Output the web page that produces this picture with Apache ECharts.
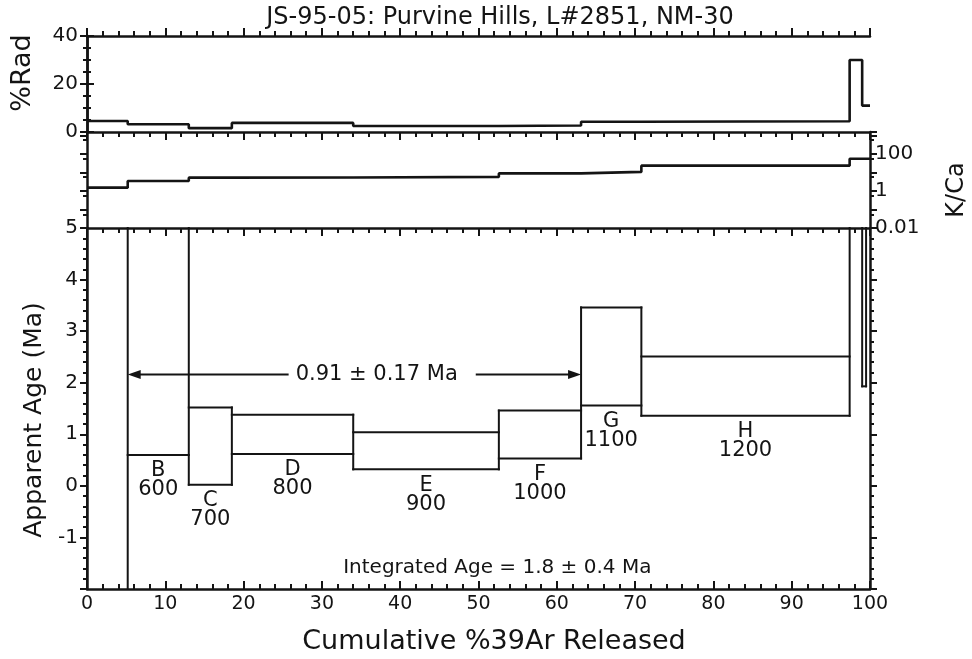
<!DOCTYPE html>
<html>
<head>
<meta charset="utf-8">
<script src="https://cdn.jsdelivr.net/npm/echarts@6/dist/echarts.min.js"></script>
<style>
  html, body { margin: 0; padding: 0; background: #fff; }
  #chart { width: 972px; height: 659px; }
</style>
</head>
<body>
<div id="chart"></div>
<script>
// ---- Step-heating data (cumulative %39Ar released) ----
const stepEdges   = [0, 5.2, 13.0, 18.5, 34.0, 52.6, 63.1, 70.8, 97.4, 99.0, 99.5, 100];
const stepLetters = ['', 'B', 'C', 'D', 'E', 'F', 'G', 'H', '', '', ''];
const stepTemps   = ['', '600', '700', '800', '900', '1000', '1100', '1200', '', '', ''];
const radPercent  = [4.6, 3.2, 1.6, 3.8, 2.5, 2.7, 4.3, 4.5, 30, 11, 11];
const kcaRatio    = [1.5, 3.4, 5.2, 5.3, 5.7, 8.8, 10.6, 23, 54, 54, 54];
const ageLow      = [-12, 0.60, 0.02, 0.62, 0.32, 0.53, 1.56, 1.36, 5.6, 1.93, 6.0];
const ageHigh     = [14, 8.0, 1.52, 1.38, 1.04, 1.46, 3.46, 2.51, 9.0, 8.5, 9.5];

// ---- Tick labels ----
const xTickLabels   = ['0', '10', '20', '30', '40', '50', '60', '70', '80', '90', '100'];
const radTickLabels = ['0', '20', '40'];
const kcaTickLabels = ['0.01', '1', '100'];
const ageTickLabels = ['-1', '0', '1', '2', '3', '4', '5'];

// ---- Plateau and integrated age ----
const plateauSpan  = [5.2, 63.1];
const plateauLevel = 2.16;
const plateauText  = '0.91 ± 0.17 Ma';
const integratedText = 'Integrated Age = 1.8 ± 0.4 Ma';

// ---- Layout / style ----
const INK = '#141414';
const FONT = '"DejaVu Sans", sans-serif';
const AGE_MIN = -2, AGE_MAX = 5;
const PLATEAU_LABEL_X = 37.7;
const INTEGRATED_POS = [52.4, -1.58];

const n = radPercent.length;

// staircase outline: horizontal run for each step, vertical riser at each boundary
function stairs(values) {
  const pts = [];
  for (let i = 0; i < n; i++) {
    pts.push([stepEdges[i], values[i]]);
    pts.push([stepEdges[i + 1], values[i]]);
  }
  return pts;
}

const chart = echarts.init(document.getElementById('chart'), null, { renderer: 'canvas' });

const frameLine = { show: true, lineStyle: { color: INK, width: 2.5 } };
const labelStyle = { color: INK, fontFamily: FONT, fontSize: 20 };

function xAxisDef(grid, position, inside, showLabels) {
  return {
    type: 'value', gridIndex: grid, position: position, min: 0, max: 100, interval: 10,
    axisLine: { show: true, onZero: false, lineStyle: { color: INK, width: 2.5 } },
    axisTick: { show: true, inside: inside, length: 8, lineStyle: { color: INK, width: 2 } },
    minorTick: { show: true, splitNumber: 5, length: 5, lineStyle: { color: INK, width: 2 } },
    splitLine: { show: false },
    axisLabel: showLabels ? {
      show: true, margin: 6, color: INK, fontFamily: FONT, fontSize: 19,
      formatter: v => xTickLabels[Math.round(v / 10)] || ''
    } : { show: false }
  };
}

function yTicks(minorSplit) {
  return {
    axisTick: { show: true, inside: false, length: 7, lineStyle: { color: INK, width: 2 } },
    minorTick: { show: true, splitNumber: minorSplit, length: 4, lineStyle: { color: INK, width: 2 } }
  };
}

const option = {
  backgroundColor: '#fff',
  animation: false,
  grid: [
    { left: 87, right: 102, top: 36, height: 96 },
    { left: 87, right: 102, top: 132, height: 96 },
    { left: 87, right: 102, top: 228, height: 361 }
  ],
  xAxis: [
    xAxisDef(0, 'top', false, false),
    xAxisDef(0, 'bottom', false, false),
    xAxisDef(1, 'bottom', false, false),
    xAxisDef(2, 'bottom', true, true)
  ],
  yAxis: [
    Object.assign({
      type: 'value', gridIndex: 0, position: 'left', min: 0, max: 40, interval: 20,
      axisLine: frameLine, splitLine: { show: false },
      axisLabel: Object.assign({ margin: 9, formatter: v => radTickLabels[Math.round(v / 20)] || '' }, labelStyle)
    }, yTicks(4)),
    Object.assign({
      type: 'value', gridIndex: 0, position: 'right', min: 0, max: 40, interval: 20,
      axisLine: frameLine, splitLine: { show: false }, axisLabel: { show: false }
    }, yTicks(4)),
    Object.assign({
      type: 'log', logBase: 10, gridIndex: 1, position: 'left', min: 0.01, max: 1500,
      axisLine: frameLine, splitLine: { show: false }, axisLabel: { show: false }
    }, yTicks(2)),
    Object.assign({
      type: 'log', logBase: 10, gridIndex: 1, position: 'right', min: 0.01, max: 1500,
      axisLine: frameLine, splitLine: { show: false },
      axisLabel: Object.assign({
        margin: 5,
        formatter: v => {
          const lg = Math.log10(v), e = Math.round(lg);
          if (Math.abs(lg - e) > 1e-6 || e % 2 !== 0) return '';
          return kcaTickLabels[(e + 2) / 2] || '';
        }
      }, labelStyle)
    }, yTicks(2)),
    Object.assign({
      type: 'value', gridIndex: 2, position: 'left', min: AGE_MIN, max: AGE_MAX, interval: 1,
      axisLine: frameLine, splitLine: { show: false },
      axisLabel: Object.assign({ margin: 9, formatter: v => ageTickLabels[Math.round(v) + 1] || '' }, labelStyle)
    }, yTicks(5)),
    Object.assign({
      type: 'value', gridIndex: 2, position: 'right', min: AGE_MIN, max: AGE_MAX, interval: 1,
      axisLine: frameLine, splitLine: { show: false }, axisLabel: { show: false }
    }, yTicks(5))
  ],
  series: [
    {
      name: '%Rad', type: 'line', xAxisIndex: 0, yAxisIndex: 0,
      data: stairs(radPercent), showSymbol: false, symbol: 'none',
      lineStyle: { color: INK, width: 2.6 }, silent: true
    },
    {
      name: 'K/Ca', type: 'line', xAxisIndex: 2, yAxisIndex: 2,
      data: stairs(kcaRatio), showSymbol: false, symbol: 'none',
      lineStyle: { color: INK, width: 2.6 }, silent: true
    },
    {
      name: 'Apparent Age', type: 'custom', xAxisIndex: 3, yAxisIndex: 4, silent: true,
      data: stepEdges.slice(0, n).map((x, i) => [x, stepEdges[i + 1], ageLow[i], ageHigh[i]]),
      encode: { x: [0, 1], y: [2, 3] },
      renderItem: function (params, api) {
        const i = params.dataIndex;
        const x0 = api.value(0), x1 = api.value(1), lo = api.value(2), hi = api.value(3);
        const inRange = v => v >= AGE_MIN && v <= AGE_MAX;
        const clampY = v => Math.max(AGE_MIN, Math.min(AGE_MAX, v));
        const kids = [];
        const seg = (a, b) => kids.push({
          type: 'line', shape: { x1: a[0], y1: a[1], x2: b[0], y2: b[1] },
          style: { stroke: INK, lineWidth: 2, lineCap: 'square' }
        });
        if (inRange(hi)) seg(api.coord([x0, hi]), api.coord([x1, hi]));
        if (inRange(lo)) seg(api.coord([x0, lo]), api.coord([x1, lo]));
        // left edge, shared with the previous step
        let vLo = lo, vHi = hi;
        if (i > 0) { vLo = Math.min(lo, ageLow[i - 1]); vHi = Math.max(hi, ageHigh[i - 1]); }
        if (vHi > AGE_MIN && vLo < AGE_MAX) {
          seg(api.coord([x0, clampY(vLo)]), api.coord([x0, clampY(vHi)]));
        }
        if (i === n - 1 && hi > AGE_MIN && lo < AGE_MAX) {
          seg(api.coord([x1, clampY(lo)]), api.coord([x1, clampY(hi)]));
        }
        if (stepLetters[i] && inRange(lo)) {
          const p = api.coord([(x0 + x1) / 2, lo]);
          kids.push({ type: 'text', x: p[0], y: p[1] + 16,
            style: { text: stepLetters[i], fill: INK, font: '21px ' + FONT, align: 'center', verticalAlign: 'middle' } });
          kids.push({ type: 'text', x: p[0], y: p[1] + 35,
            style: { text: stepTemps[i], fill: INK, font: '21px ' + FONT, align: 'center', verticalAlign: 'middle' } });
        }
        return { type: 'group', children: kids };
      }
    },
    {
      name: 'Plateau', type: 'custom', xAxisIndex: 3, yAxisIndex: 4, silent: true,
      data: [[plateauSpan[0], plateauSpan[1], plateauLevel]],
      encode: { x: [0, 1], y: 2 },
      renderItem: function (params, api) {
        const a = api.coord([api.value(0), api.value(2)]);
        const b = api.coord([api.value(1), api.value(2)]);
        const t = api.coord([PLATEAU_LABEL_X, api.value(2)]);
        const head = 13, half = 4.5;
        return {
          type: 'group',
          children: [
            { type: 'line', shape: { x1: a[0] + head - 1, y1: a[1], x2: b[0] - head + 1, y2: b[1] },
              style: { stroke: INK, lineWidth: 2 } },
            { type: 'polygon', shape: { points: [[a[0], a[1]], [a[0] + head, a[1] - half], [a[0] + head, a[1] + half]] },
              style: { fill: INK } },
            { type: 'polygon', shape: { points: [[b[0], b[1]], [b[0] - head, b[1] - half], [b[0] - head, b[1] + half]] },
              style: { fill: INK } },
            { type: 'text', x: t[0], y: t[1],
              style: { text: plateauText, fill: INK, font: '21px ' + FONT, align: 'center', verticalAlign: 'middle',
                       backgroundColor: '#fff', padding: [2, 18, 2, 7] } }
          ]
        };
      }
    },
    {
      name: 'Integrated', type: 'custom', xAxisIndex: 3, yAxisIndex: 4, silent: true,
      data: [INTEGRATED_POS],
      renderItem: function (params, api) {
        const p = api.coord([api.value(0), api.value(1)]);
        return { type: 'text', x: p[0], y: p[1],
          style: { text: integratedText, fill: INK, font: '20px ' + FONT, align: 'center', verticalAlign: 'middle' } };
      }
    }
  ],
  graphic: [
    { type: 'text', x: 500, y: 18, style: { text: 'JS-95-05: Purvine Hills, L#2851, NM-30', fill: INK,
      font: '24px ' + FONT, align: 'center', verticalAlign: 'middle' } },
    { type: 'text', x: 494, y: 642, style: { text: 'Cumulative %39Ar Released', fill: INK,
      font: '27px ' + FONT, align: 'center', verticalAlign: 'middle' } },
    { type: 'text', x: 34, y: 420, rotation: Math.PI / 2, style: { text: 'Apparent Age (Ma)', fill: INK,
      font: '25px ' + FONT, align: 'center', verticalAlign: 'middle' } },
    { type: 'text', x: 23, y: 73, rotation: Math.PI / 2, style: { text: '%Rad', fill: INK,
      font: '27px ' + FONT, align: 'center', verticalAlign: 'middle' } },
    { type: 'text', x: 957, y: 190, rotation: Math.PI / 2, style: { text: 'K/Ca', fill: INK,
      font: '24px ' + FONT, align: 'center', verticalAlign: 'middle' } }
  ]
};

chart.setOption(option);
</script>
</body>
</html>
